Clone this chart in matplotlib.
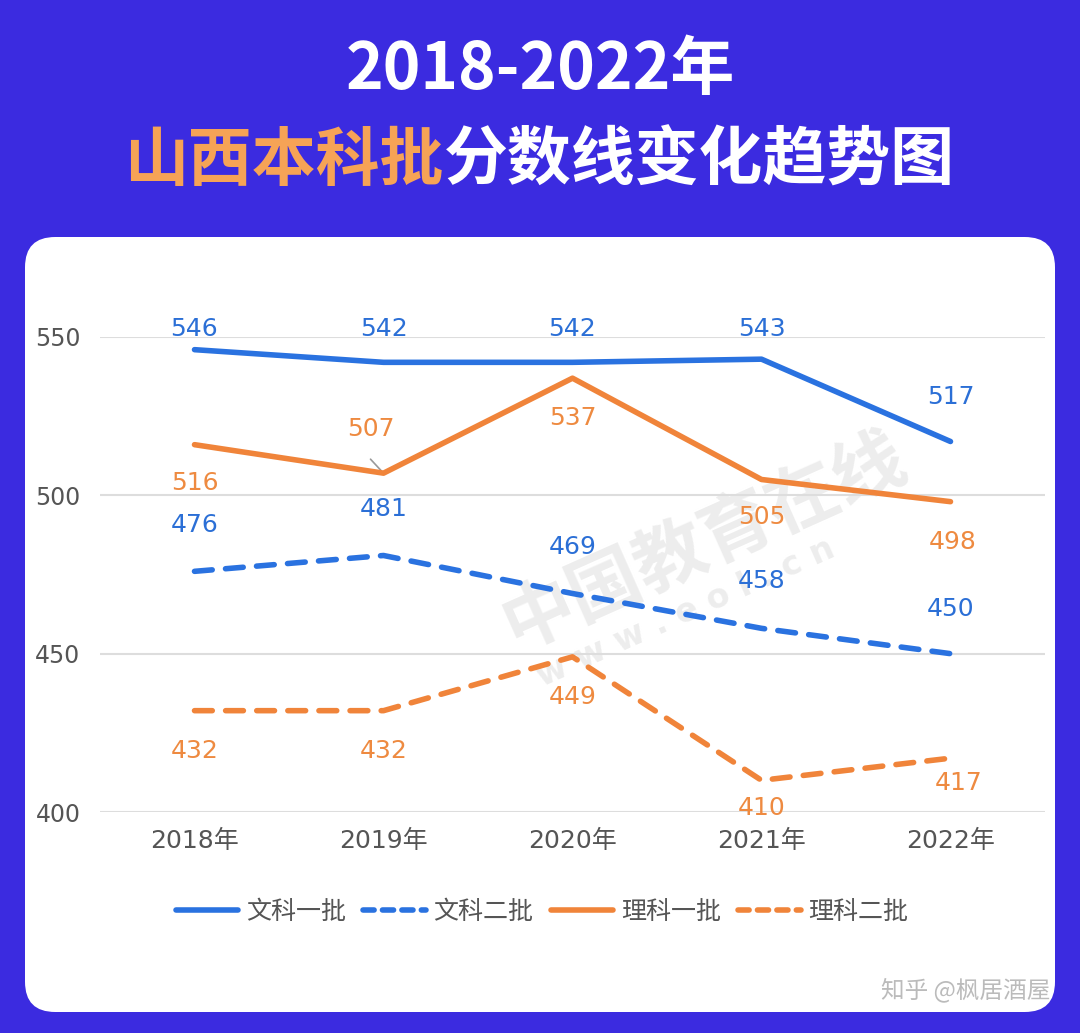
import matplotlib
matplotlib.use("Agg")
import matplotlib.pyplot as plt
from matplotlib.patches import FancyBboxPatch
from matplotlib.lines import Line2D

plt.rcParams['font.family'] = ['DejaVu Sans', 'Noto Sans CJK SC']
CJK = ['Noto Sans CJK SC', 'DejaVu Sans']

# ---- data ----
years = ["2018年", "2019年", "2020年", "2021年", "2022年"]
wen_yi = [546, 542, 542, 543, 517]   # 文科一批
wen_er = [476, 481, 469, 458, 450]   # 文科二批
li_yi = [516, 507, 537, 505, 498]    # 理科一批
li_er = [432, 432, 449, 410, 417]    # 理科二批
series_names = ["文科一批", "文科二批", "理科一批", "理科二批"]
y_ticks = [400, 450, 500, 550]

# ---- styles ----
BG = "#3b2be0"
BLUE = "#2a72e0"
ORANGE = "#f0843a"
BLUE_TXT = "#2b6fd6"
ORANGE_TXT = "#ee8a40"
GRAY = "#555555"

W, H = 1080, 1033
fig = plt.figure(figsize=(W / 100, H / 100), dpi=100)
fig.patch.set_facecolor(BG)

def fx(px):
    return px / W

def fy(py):
    return 1 - py / H

# white rounded panel
panel = FancyBboxPatch((fx(25), fy(1012)), fx(1055) - fx(25), fy(237) - fy(1012),
                       boxstyle="round,pad=0,rounding_size=0.028",
                       transform=fig.transFigure, facecolor="white", edgecolor="none",
                       mutation_aspect=W / H, zorder=-5)
fig.patches.append(panel)

# title
fig.text(fx(540), fy(70), "2018-2022年", color="white", fontsize=46,
         fontweight="bold", ha="center", va="center", family=CJK)
fig.text(fx(124), fy(161), "山西本科批", color="#f6a356", fontsize=46,
         fontweight="bold", ha="left", va="center", family=CJK)
fig.text(fx(444), fy(161), "分数线变化趋势图", color="white", fontsize=46,
         fontweight="bold", ha="left", va="center", family=CJK)

# axes
ax = fig.add_axes([fx(100), fy(812), fx(1045) - fx(100), fy(337) - fy(812)])
ax.set_zorder(1)
ax.set_facecolor("none")
ax.set_xlim(-0.5, len(years) - 0.5)
ax.set_ylim(400, 550)
ax.set_yticks(y_ticks)
ax.set_xticks(range(len(years)))
ax.set_xticklabels(years)
for s in ax.spines.values():
    s.set_visible(False)
ax.tick_params(length=0, colors=GRAY)
ax.tick_params(axis="y", pad=14, labelsize=17)
ax.tick_params(axis="x", pad=12, labelsize=18)
ax.grid(axis="y", color="#dddddd", linewidth=1.5)
ax.set_axisbelow(True)

# watermark
ax.text(0.64, 0.57, "中国教育在线", transform=ax.transAxes, fontsize=52,
        fontweight="bold", color="#cccccc", alpha=0.35, rotation=24,
        ha="center", va="center", zorder=0, family=CJK)
ax.text(0.62, 0.42, "w w w . e o l . c n", transform=ax.transAxes, fontsize=24,
        fontweight="bold", color="#cccccc", alpha=0.35, rotation=24,
        ha="center", va="center", zorder=0)

x = list(range(len(years)))
lw = 4.0
ax.plot(x, wen_yi, color=BLUE, lw=lw, solid_capstyle="round", zorder=3)
ax.plot(x, wen_er, color=BLUE, lw=lw, linestyle=(0, (3.2, 2.4)),
        dash_capstyle="round", zorder=3)
ax.plot(x, li_yi, color=ORANGE, lw=lw, solid_capstyle="round", zorder=3)
ax.plot(x, li_er, color=ORANGE, lw=lw, linestyle=(0, (3.2, 2.4)),
        dash_capstyle="round", zorder=3)

# label offsets in pixels (dx, dy); positive dy = up
off_wen_yi = [(0, 21), (0, 33), (0, 33), (0, 30), (0, 45)]
off_wen_er = [(0, 46), (0, 46), (0, 47), (0, 47), (0, 45)]
off_li_yi = [(0, -38), (-13, 44), (0, -40), (0, -38), (2, -40)]
off_li_er = [(0, -40), (0, -40), (0, -40), (0, -28), (8, -25)]

def labels(vals, offs, color):
    for i, (v, o) in enumerate(zip(vals, offs)):
        ax.annotate(str(v), (i, v), xytext=o, textcoords="offset pixels",
                    ha="center", va="center", fontsize=18, color=color,
                    annotation_clip=False, zorder=4)

labels(wen_yi, off_wen_yi, BLUE_TXT)
labels(wen_er, off_wen_er, BLUE_TXT)
labels(li_yi, off_li_yi, ORANGE_TXT)
labels(li_er, off_li_er, ORANGE_TXT)

# leader line for 2019 理科一批
ax.annotate("", xy=(1, li_yi[1]), xytext=(-13, 14), textcoords="offset pixels",
            arrowprops=dict(arrowstyle="-", color="#999999", lw=1.2,
                            shrinkA=0, shrinkB=2), zorder=2)

# legend
handles = [
    Line2D([], [], color=BLUE, lw=lw, solid_capstyle="round"),
    Line2D([], [], color=BLUE, lw=lw, linestyle=(0, (2.0, 1.5)), dash_capstyle="round"),
    Line2D([], [], color=ORANGE, lw=lw, solid_capstyle="round"),
    Line2D([], [], color=ORANGE, lw=lw, linestyle=(0, (2.0, 1.5)), dash_capstyle="round"),
]
leg = fig.legend(handles, series_names, loc="center", bbox_to_anchor=(fx(542), fy(912)),
                 ncol=4, frameon=False, prop={'family': CJK, 'size': 18},
                 handlelength=2.5, handletextpad=0.3, columnspacing=0.7)
for t in leg.get_texts():
    t.set_color(GRAY)

# corner watermark
fig.text(fx(1050), fy(990), "知乎 @枫居酒屋", color="#bbbbbb", fontsize=17,
         ha="right", va="center", family=CJK)

fig.savefig("out.png", dpi=100, facecolor=BG)
